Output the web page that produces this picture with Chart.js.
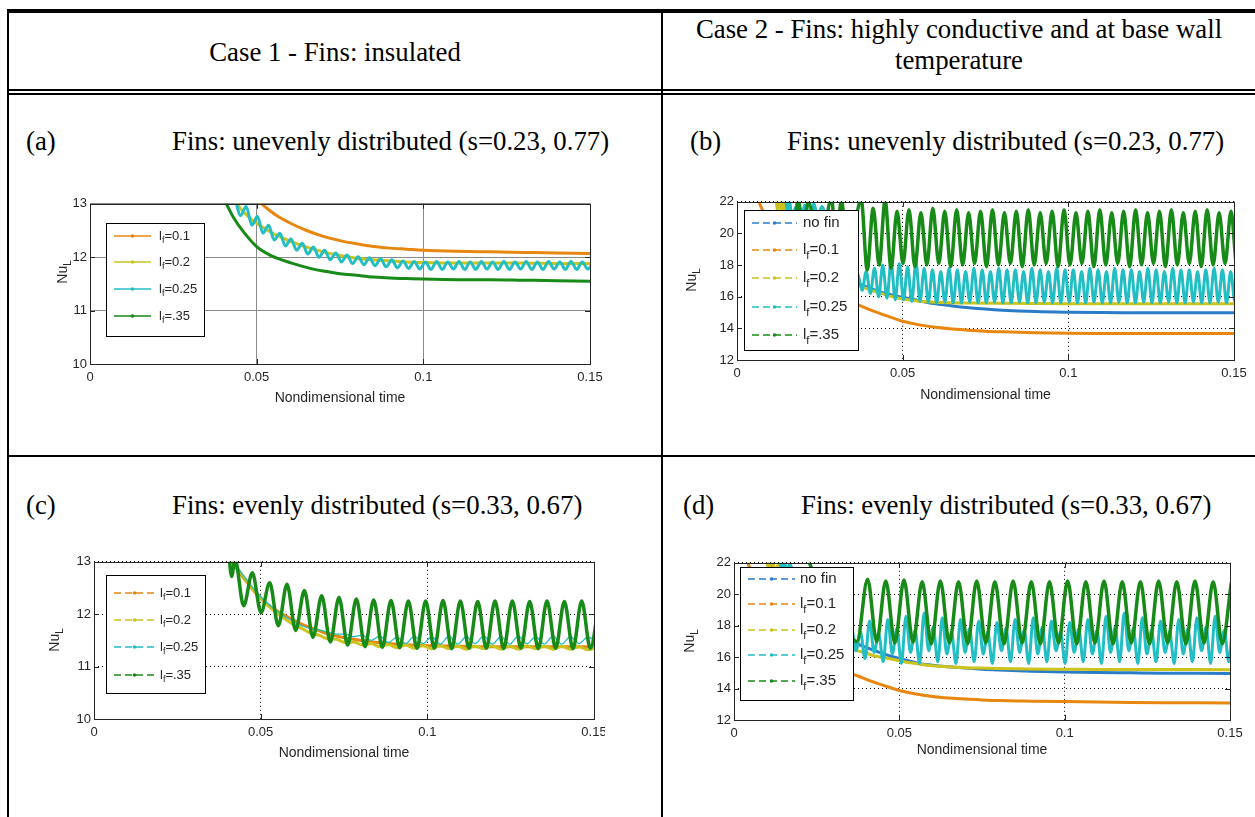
<!DOCTYPE html>
<html>
<head>
<meta charset="utf-8">
<title>Nu_L against nondimensional time</title>
<script src="https://cdn.jsdelivr.net/npm/chart.js@4.4.1/dist/chart.umd.min.js"></script>
<style>
  html, body { margin: 0; padding: 0; background: #fff; }
  #page { position: relative; width: 1255px; height: 817px; overflow: hidden;
          font-family: "Liberation Serif", "Times New Roman", serif; color: #000; }
  .rule { position: absolute; background: #000; }
  .txt { position: absolute; white-space: nowrap; font-size: 26.8px; line-height: 30px; }
  .panel { position: absolute; overflow: hidden; }
  .panel canvas { display: block; }
</style>
</head>
<body>
<div id="page">
  <!-- table rules -->
  <div class="rule" style="left:7px; top:9px; width:1248px; height:4px"></div>
  <div class="rule" style="left:7px; top:9px; width:2px; height:808px"></div>
  <div class="rule" style="left:661px; top:9px; width:2px; height:808px"></div>
  <div class="rule" style="left:7px; top:89px; width:1248px; height:2px"></div>
  <div class="rule" style="left:7px; top:93px; width:1248px; height:2px"></div>
  <div class="rule" style="left:7px; top:455px; width:1248px; height:2px"></div>

  <div class="txt" style="left:9px; width:652px; top:37px; text-align:center">Case 1 - Fins: insulated</div>
  <div class="txt" style="left:663px; width:592px; top:14px; line-height:31px; text-align:center">Case 2 - Fins: highly conductive and at base wall<br>temperature</div>

  <div class="txt" style="left:26px; top:126px">(a)</div>
  <div class="txt" style="left:172px; top:126px">Fins: unevenly distributed (s=0.23, 0.77)</div>
  <div class="txt" style="left:690px; top:126px">(b)</div>
  <div class="txt" style="left:787px; top:126px">Fins: unevenly distributed (s=0.23, 0.77)</div>
  <div class="txt" style="left:26px; top:490px">(c)</div>
  <div class="txt" style="left:172px; top:490px">Fins: evenly distributed (s=0.33, 0.67)</div>
  <div class="txt" style="left:683px; top:490px">(d)</div>
  <div class="txt" style="left:801px; top:490px">Fins: evenly distributed (s=0.33, 0.67)</div>

  <div class="panel" id="wrapA"><canvas id="chartA"></canvas></div>
  <div class="panel" id="wrapB"><canvas id="chartB"></canvas></div>
  <div class="panel" id="wrapC"><canvas id="chartC"></canvas></div>
  <div class="panel" id="wrapD"><canvas id="chartD"></canvas></div>
</div>

<script>
// ---- axes ----
const xTicks = [0, 0.05, 0.1, 0.15];
const xTickLabels = ['0', '0.05', '0.1', '0.15'];
const yTicksCase1 = [10, 11, 12, 13];
const yTickLabelsCase1 = ['10', '11', '12', '13'];
const yTicksCase2 = [12, 14, 16, 18, 20, 22];
const yTickLabelsCase2 = ['12', '14', '16', '18', '20', '22'];
const namesCase1 = ['l_f=0.1', 'l_f=0.2', 'l_f=0.25', 'l_f=.35'];
const namesCase2 = ['no fin', 'l_f=0.1', 'l_f=0.2', 'l_f=0.25', 'l_f=.35'];

// ---- (a) case 1, uneven fins ----
const aOrangeT = [0.0505, 0.053, 0.056, 0.06, 0.065, 0.07, 0.075, 0.08, 0.085, 0.09, 0.095, 0.1, 0.11, 0.12, 0.13, 0.14, 0.15];
const aOrangeY = [13.05, 12.92, 12.78, 12.64, 12.5, 12.39, 12.31, 12.25, 12.2, 12.17, 12.15, 12.13, 12.11, 12.1, 12.09, 12.08, 12.07];
const aYellowT = [0.0435, 0.046, 0.049, 0.052, 0.055, 0.06, 0.065, 0.07, 0.075, 0.08, 0.085, 0.09, 0.095, 0.1, 0.11, 0.12, 0.13, 0.14, 0.15];
const aYellowY = [13.05, 12.85, 12.68, 12.55, 12.44, 12.3, 12.19, 12.1, 12.03, 11.98, 11.95, 11.93, 11.91, 11.9, 11.89, 11.89, 11.89, 11.88, 11.88];
// cyan ripples: one value per half period
const aCyanStart = 0.0435, aCyanHalf = 0.00168;
const aCyanPeaks = [13.1, 12.95, 12.76, 12.6, 12.45, 12.34, 12.26, 12.19, 12.13, 12.08, 12.04, 12.01, 11.99, 11.97, 11.95, 11.93, 11.92, 11.91, 11.92, 11.91, 11.92, 11.91, 11.92, 11.91, 11.92, 11.91, 11.92, 11.91, 11.92, 11.91, 11.92, 11.91, 11.9];
const aCyanTroughs = [12.78, 12.6, 12.45, 12.32, 12.21, 12.13, 12.06, 12.0, 11.95, 11.91, 11.88, 11.86, 11.84, 11.82, 11.8, 11.79, 11.78, 11.77, 11.77, 11.78, 11.77, 11.77, 11.78, 11.77, 11.77, 11.78, 11.77, 11.77, 11.78, 11.77, 11.77, 11.78];
const aGreenT = [0.0405, 0.043, 0.046, 0.05, 0.054, 0.058, 0.062, 0.066, 0.07, 0.075, 0.08, 0.085, 0.09, 0.095, 0.1, 0.11, 0.12, 0.13, 0.14, 0.15];
const aGreenY = [13.05, 12.75, 12.48, 12.2, 12.04, 11.94, 11.86, 11.79, 11.74, 11.69, 11.66, 11.63, 11.61, 11.6, 11.59, 11.58, 11.58, 11.57, 11.56, 11.55];

// ---- (b) case 2, uneven fins ----
const bBlueT = [0.0125, 0.0145, 0.017, 0.02, 0.025, 0.03, 0.034, 0.037, 0.04, 0.044, 0.048, 0.052, 0.056, 0.06, 0.065, 0.07, 0.075, 0.08, 0.09, 0.1, 0.11, 0.12, 0.13, 0.14, 0.15];
const bBlueY = [23, 21.6, 20.2, 19.0, 17.9, 17.2, 16.95, 16.8, 16.55, 16.25, 16.05, 15.88, 15.7, 15.55, 15.42, 15.31, 15.22, 15.15, 15.06, 15.02, 15.0, 14.99, 14.98, 14.98, 14.98];
const bOrangeT = [0.0055, 0.0068, 0.0083, 0.012, 0.018, 0.025, 0.032, 0.037, 0.041, 0.045, 0.05, 0.055, 0.06, 0.065, 0.07, 0.075, 0.08, 0.09, 0.1, 0.11, 0.12, 0.13, 0.14, 0.15];
const bOrangeY = [22.6, 21.9, 21.2, 19.5, 17.6, 16.4, 15.8, 15.45, 15.1, 14.8, 14.45, 14.22, 14.07, 13.96, 13.88, 13.82, 13.78, 13.72, 13.69, 13.68, 13.68, 13.67, 13.67, 13.67];
const bYellowT = [0.0115, 0.0122, 0.0128, 0.0134, 0.014, 0.016, 0.0185, 0.0195, 0.0215, 0.026, 0.032, 0.037, 0.04, 0.043, 0.046, 0.05, 0.055, 0.06, 0.07, 0.08, 0.1, 0.12, 0.15];
const bYellowY = [23, 21.5, 22.2, 21.3, 21.9, 19.5, 21.8, 21.0, 19.0, 18.0, 17.2, 16.7, 16.45, 16.25, 16.05, 15.85, 15.72, 15.65, 15.6, 15.58, 15.56, 15.55, 15.55];
const bCyanEarlyT = [0.0145, 0.0152, 0.0158, 0.0165, 0.0185, 0.0195, 0.0205, 0.022, 0.0232, 0.0244, 0.0256, 0.029, 0.033];
const bCyanEarlyY = [23, 21.4, 22.1, 21.2, 21.9, 21.2, 21.8, 20.5, 21.9, 21.0, 21.7, 18.5, 17.6];
const bCyanStart = 0.0365, bCyanHalf = 0.00125;
const bCyanPeaks = [17.4, 17.6, 17.8, 18.0, 18.2, 18.1, 17.9, 18.2, 17.8, 17.7,
  17.6, 17.8, 17.7, 17.6, 17.8, 17.7, 17.6, 17.8, 17.7, 17.7,
  17.6, 17.8, 17.7, 17.6, 17.8, 17.7, 17.7, 17.6, 17.8, 17.7,
  17.6, 17.8, 17.7, 17.7, 17.6, 17.8, 17.7, 17.6, 17.8, 17.7,
  17.7, 17.6, 17.7, 17.8, 17.7, 17.6, 17.5];
const bCyanTroughs = [16.4, 16.2, 16.0, 15.9, 15.8, 15.8, 15.7, 15.7, 15.65, 15.6,
  15.65, 15.6, 15.6, 15.65, 15.6, 15.6, 15.65, 15.6, 15.6, 15.65,
  15.6, 15.6, 15.65, 15.6, 15.6, 15.65, 15.6, 15.6, 15.65, 15.6,
  15.6, 15.65, 15.6, 15.6, 15.65, 15.6, 15.6, 15.65, 15.6, 15.6,
  15.65, 15.6, 15.6, 15.65, 15.6, 15.7];
const bGreenEarlyT = [0.017, 0.0185, 0.02, 0.0215, 0.025, 0.0285, 0.03, 0.0315, 0.0335];
const bGreenEarlyY = [19.5, 22.1, 19.8, 22.0, 18.6, 22.2, 19.2, 22.1, 18.5];
const bGreenStart = 0.0375, bGreenHalf = 0.0018;
const bGreenPeaks = [22.1, 21.6, 22.1, 21.4, 21.5, 21.3, 21.6, 21.4, 21.5, 21.3, 21.4,
  21.5, 21.3, 21.4, 21.5, 21.3, 21.4, 21.5, 21.3, 21.4, 21.5, 21.3,
  21.4, 21.5, 21.3, 21.4, 21.5, 21.3, 21.4, 21.5, 21.3, 21.4, 21.4];
const bGreenTroughs = [17.7, 18.0, 17.8, 18.1, 17.9, 18.0, 18.1, 17.9, 18.0, 18.1, 17.9,
  18.0, 18.1, 17.9, 18.0, 18.1, 17.9, 18.0, 18.1, 17.9, 18.0, 18.1,
  17.9, 18.0, 18.1, 17.9, 18.0, 18.1, 17.9, 18.0, 18.1, 17.9];

// ---- (c) case 1, even fins ----
const cOrangeT = [0.0405, 0.043, 0.046, 0.05, 0.054, 0.058, 0.062, 0.066, 0.07, 0.075, 0.08, 0.085, 0.09, 0.095, 0.1, 0.11, 0.12, 0.13, 0.14, 0.15];
const cOrangeY = [13.05, 12.85, 12.6, 12.3, 12.1, 11.95, 11.82, 11.72, 11.63, 11.55, 11.5, 11.46, 11.43, 11.41, 11.4, 11.39, 11.38, 11.38, 11.38, 11.38];
const cGridStart = 0.0415, cGridStep = 0.0026;
const cYellowY = [13.0, 12.78, 12.56, 12.36, 12.18, 12.04, 11.92, 11.81, 11.73, 11.64,
  11.6, 11.53, 11.52, 11.46, 11.47, 11.41, 11.44, 11.38, 11.42, 11.36,
  11.41, 11.35, 11.4, 11.34, 11.4, 11.34, 11.39, 11.33, 11.39, 11.34,
  11.4, 11.33, 11.39, 11.33, 11.4, 11.34, 11.39, 11.33, 11.39, 11.33,
  11.38, 11.32, 11.36];
const cCyanY = [13.05, 12.8, 12.58, 12.38, 12.22, 12.08, 11.96, 11.87, 11.78, 11.73,
  11.7, 11.66, 11.62, 11.62, 11.57, 11.6, 11.5, 11.58, 11.46, 11.56,
  11.44, 11.58, 11.44, 11.57, 11.43, 11.58, 11.43, 11.57, 11.44, 11.58,
  11.43, 11.57, 11.43, 11.58, 11.44, 11.57, 11.43, 11.58, 11.43, 11.57,
  11.44, 11.56, 11.5];
const cGreenEarlyT = [0.0403, 0.0413];
const cGreenEarlyY = [13.25, 12.72];
const cGreenStart = 0.0423, cGreenHalf = 0.0026;
const cGreenPeaks = [13.05, 12.79, 12.6, 12.57, 12.45, 12.35, 12.32, 12.29, 12.27, 12.26, 12.25,
  12.25, 12.26, 12.25, 12.24, 12.25, 12.25, 12.24, 12.25, 12.24, 12.25, 12.22];
const cGreenTroughs = [12.16, 12.03, 11.78, 11.69, 11.56, 11.47, 11.41, 11.38, 11.37, 11.36, 11.35,
  11.35, 11.34, 11.35, 11.35, 11.34, 11.35, 11.34, 11.35, 11.34, 11.35];

// ---- (d) case 2, even fins ----
const dBlueT = [0.009, 0.011, 0.014, 0.018, 0.024, 0.03, 0.035, 0.0375, 0.04, 0.044, 0.048, 0.052, 0.056, 0.06, 0.065, 0.07, 0.075, 0.08, 0.09, 0.1, 0.11, 0.12, 0.13, 0.14, 0.15];
const dBlueY = [23, 21.9, 20.5, 19.2, 18.0, 17.3, 16.95, 16.82, 16.62, 16.3, 16.02, 15.8, 15.6, 15.48, 15.38, 15.3, 15.23, 15.18, 15.1, 15.05, 15.02, 15.0, 14.98, 14.97, 14.96];
const dOrangeT = [0.003, 0.0045, 0.006, 0.009, 0.014, 0.02, 0.027, 0.033, 0.0375, 0.041, 0.045, 0.05, 0.055, 0.06, 0.065, 0.07, 0.075, 0.08, 0.09, 0.1, 0.11, 0.12, 0.13, 0.14, 0.15];
const dOrangeY = [23, 21.8, 21.5, 19.8, 18.0, 16.6, 15.7, 15.1, 14.8, 14.5, 14.22, 13.88, 13.65, 13.5, 13.4, 13.33, 13.28, 13.24, 13.2, 13.17, 13.15, 13.12, 13.1, 13.09, 13.08];
const dYellowT = [0.0095, 0.0105, 0.0115, 0.0125, 0.0135, 0.016, 0.022, 0.03, 0.0375, 0.04, 0.043, 0.046, 0.05, 0.054, 0.058, 0.062, 0.066, 0.07, 0.075, 0.08, 0.09, 0.1, 0.11, 0.12, 0.13, 0.14, 0.15];
const dYellowY = [23, 21.6, 22.1, 21.5, 21.9, 19.5, 17.8, 17.0, 16.4, 16.25, 16.05, 15.95, 15.78, 15.62, 15.5, 15.42, 15.37, 15.33, 15.3, 15.27, 15.24, 15.23, 15.22, 15.22, 15.22, 15.21, 15.2];
const dCyanEarlyT = [0.0135, 0.0145, 0.0152, 0.016, 0.0168, 0.02, 0.027, 0.032];
const dCyanEarlyY = [23, 21.5, 22.1, 21.4, 21.9, 19.5, 18.2, 17.4];
const dCyanStart = 0.0355, dCyanHalf = 0.001375;
const dCyanPeaks = [17.9, 17.6, 18.3, 17.5, 18.4, 17.8, 18.6, 17.7, 18.8, 17.9,
  18.5, 17.6, 18.4, 17.8, 18.3, 17.6, 18.2, 17.8, 18.4, 17.7,
  18.5, 17.9, 18.3, 17.6, 18.2, 17.8, 18.4, 17.7, 18.6, 17.9,
  18.8, 17.8, 18.5, 17.7, 18.3, 17.6, 18.4, 17.8, 18.5, 17.9,
  18.6, 17.7, 18.2];
const dCyanTroughs = [16.4, 15.9, 16.3, 15.7, 16.2, 15.6, 16.3, 15.6, 16.4, 15.7,
  16.2, 15.6, 16.3, 15.7, 16.2, 15.6, 16.4, 15.7, 16.3, 15.6,
  16.2, 15.7, 16.4, 15.6, 16.3, 15.7, 16.2, 15.6, 16.3, 15.7,
  16.4, 15.6, 16.2, 15.7, 16.3, 15.6, 16.2, 15.7, 16.4, 15.6,
  16.3, 15.7, 16.0];
const dGreenEarlyT = [0.0215, 0.023, 0.026, 0.03, 0.034, 0.0372];
const dGreenEarlyY = [23, 21.9, 20.5, 18.8, 17.6, 17.0];
const dGreenStart = 0.0404, dGreenHalf = 0.00275;
const dGreenPeaks = [20.95, 20.85, 20.9, 20.8, 20.85, 20.8, 20.85, 20.8, 20.85, 20.8, 20.8,
  20.85, 20.8, 20.85, 20.8, 20.8, 20.85, 20.8, 20.85, 20.8, 20.75];
const dGreenTroughs = [17.0, 16.9, 16.95, 16.85, 16.9, 16.85, 16.9, 16.85, 16.9, 16.85,
  16.9, 16.85, 16.9, 16.85, 16.9, 16.85, 16.9, 16.85, 16.9, 16.85];

// ---- helpers that turn the arrays into {x, y} points ----
function pairs(ts, ys) {
    return ts.map((t, i) => ({ x: t, y: ys[i] }));
}
function grid(start, step, ys) {
    return ys.map((y, i) => ({ x: start + i * step, y: y }));
}
function wave(start, half, peaks, troughs) {
    const out = [];
    const n = peaks.length + troughs.length;
    for (let i = 0; i < n; i++) {
        const y = i % 2 === 0 ? peaks[i / 2] : troughs[(i - 1) / 2];
        out.push({ x: start + i * half, y: y });
    }
    return out;
}

const FONT = '"Liberation Sans", Arial, Helvetica, sans-serif';
const INK = '#262626';
const ORANGE = '#E8870F';
const YELLOW = '#CCC31C';
const CYAN = '#22BEC4';
const GREEN = '#178A17';
const BLUE = '#2B7CC8';

function drawName(ctx, name, x, y, size) {
    ctx.textBaseline = 'middle';
    ctx.textAlign = 'left';
    ctx.fillStyle = INK;
    ctx.font = size + 'px ' + FONT;
    if (name.indexOf('_') < 0) {
        ctx.fillText(name, x, y);
        return;
    }
    const base = name.slice(0, name.indexOf('_'));
    const sub = name.charAt(name.indexOf('_') + 1);
    const rest = name.slice(name.indexOf('_') + 2);
    ctx.fillText(base, x, y);
    x += ctx.measureText(base).width;
    ctx.font = Math.round(size * 0.7) + 'px ' + FONT;
    ctx.fillText(sub, x, y + size * 0.38);
    x += ctx.measureText(sub).width;
    ctx.font = size + 'px ' + FONT;
    ctx.fillText(rest, x, y);
}

function makePanel(cfg) {
    const P = cfg.plot;
    const padL = 55, padT = 10, padR = 25, axisH = cfg.axisH;
    const ox = P.l - padL, oy = P.t - padT;
    const W = P.r - P.l + padL + padR;
    const H = P.b - P.t + padT + axisH;
    const wrap = document.getElementById(cfg.wrap);
    wrap.style.left = ox + 'px';
    wrap.style.top = oy + 'px';
    wrap.style.width = (cfg.clipRight ? cfg.clipRight - ox : W) + 'px';
    wrap.style.height = H + 'px';
    const canvas = document.getElementById(cfg.canvas);
    canvas.width = W;
    canvas.height = H;
    canvas.style.width = W + 'px';
    canvas.style.height = H + 'px';

    const panelPlugin = {
        id: 'panel',
        afterDatasetsDraw(chart) {
            const ctx = chart.ctx;
            const a = chart.chartArea;
            const xs = chart.scales.x, ys = chart.scales.y;
            ctx.save();
            // box and inward tick marks, MATLAB style
            ctx.strokeStyle = INK;
            ctx.lineWidth = 1;
            ctx.setLineDash([]);
            ctx.beginPath();
            xTicks.forEach(v => {
                const px = Math.round(xs.getPixelForValue(v)) + 0.5;
                ctx.moveTo(px, a.bottom); ctx.lineTo(px, a.bottom - 5);
                ctx.moveTo(px, a.top); ctx.lineTo(px, a.top + 5);
            });
            cfg.yTicks.forEach(v => {
                const py = Math.round(ys.getPixelForValue(v)) + 0.5;
                ctx.moveTo(a.left, py); ctx.lineTo(a.left + 5, py);
                ctx.moveTo(a.right, py); ctx.lineTo(a.right - 5, py);
            });
            ctx.stroke();
            ctx.strokeRect(Math.round(a.left) + 0.5, Math.round(a.top) + 0.5,
                Math.round(a.right - a.left), Math.round(a.bottom - a.top));

            // legend box
            const L = cfg.legend;
            const lx = L.x - ox, ly = L.y - oy;
            ctx.fillStyle = '#fff';
            ctx.fillRect(lx, ly, L.w, L.h);
            ctx.strokeStyle = '#000';
            ctx.strokeRect(lx + 0.5, ly + 0.5, L.w, L.h);
            cfg.series.forEach((s, i) => {
                const ry = L.rows[i] - oy;
                ctx.strokeStyle = s.color;
                ctx.lineWidth = 1.6;
                ctx.setLineDash(L.dashed ? [7, 4] : []);
                ctx.beginPath();
                ctx.moveTo(L.line[0] - ox, ry);
                ctx.lineTo(L.line[1] - ox, ry);
                ctx.stroke();
                ctx.setLineDash([]);
                const mx = (L.line[0] + L.line[1]) / 2 - ox;
                ctx.fillStyle = s.color;
                ctx.beginPath();
                ctx.arc(mx, ry, 1.8, 0, Math.PI * 2);
                ctx.fill();
                drawName(ctx, s.name, L.textX - ox, ry, L.size);
            });

            // y axis label Nu_L, rotated
            ctx.translate(cfg.nuX - ox, cfg.nuY - oy);
            ctx.rotate(-Math.PI / 2);
            ctx.font = '14px ' + FONT;
            const w1 = ctx.measureText('Nu').width;
            ctx.font = '10px ' + FONT;
            const w2 = ctx.measureText('L').width;
            drawName(ctx, 'Nu_L', -(w1 + w2) / 2, 0, 14);
            ctx.restore();
        }
    };

    const tickFont = { family: FONT, size: 13 };
    return new Chart(canvas, {
        type: 'line',
        data: {
            datasets: cfg.series.map((s, i) => ({
                label: s.name,
                data: s.points,
                borderColor: s.color,
                borderWidth: s.width,
                pointRadius: 0,
                fill: false,
                cubicInterpolationMode: 'monotone',
                order: -i
            }))
        },
        options: {
            responsive: false,
            animation: false,
            devicePixelRatio: 1,
            events: [],
            layout: { padding: { left: 0, top: padT, right: padR, bottom: 0 } },
            plugins: {
                legend: { display: false },
                tooltip: { enabled: false }
            },
            scales: {
                x: {
                    type: 'linear',
                    min: 0,
                    max: 0.15,
                    afterFit: s => { s.height = axisH; },
                    afterBuildTicks: s => { s.ticks = xTicks.map(v => ({ value: v })); },
                    ticks: {
                        callback: (v, i) => xTickLabels[i],
                        font: tickFont,
                        color: INK,
                        padding: 6,
                        maxRotation: 0,
                        autoSkip: false
                    },
                    grid: { color: cfg.gridColor, lineWidth: 1, drawTicks: false },
                    border: { display: false, dash: cfg.gridDash },
                    title: {
                        display: true,
                        text: 'Nondimensional time',
                        font: { family: FONT, size: 14 },
                        color: INK,
                        padding: { top: 0, bottom: 3 }
                    }
                },
                y: {
                    type: 'linear',
                    min: cfg.yTicks[0],
                    max: cfg.yTicks[cfg.yTicks.length - 1],
                    afterFit: s => { s.width = padL; },
                    afterBuildTicks: s => { s.ticks = cfg.yTicks.map(v => ({ value: v })); },
                    ticks: {
                        callback: (v, i) => cfg.yTickLabels[i],
                        font: tickFont,
                        color: INK,
                        padding: 3,
                        autoSkip: false
                    },
                    grid: { color: cfg.gridColor, lineWidth: 1, drawTicks: false },
                    border: { display: false, dash: cfg.gridDash }
                }
            }
        },
        plugins: [panelPlugin]
    });
}

makePanel({
    wrap: 'wrapA', canvas: 'chartA',
    plot: { l: 90, r: 590, t: 203, b: 364 }, axisH: 46,
    yTicks: yTicksCase1, yTickLabels: yTickLabelsCase1,
    gridColor: '#8a8a8a', gridDash: [],
    nuX: 63, nuY: 272,
    legend: { x: 106, y: 223, w: 98, h: 113, rows: [236, 262, 289, 316], line: [114, 151], textX: 159, size: 13, dashed: false },
    series: [
        { name: namesCase1[0], color: ORANGE, width: 3, points: pairs(aOrangeT, aOrangeY) },
        { name: namesCase1[1], color: YELLOW, width: 3, points: pairs(aYellowT, aYellowY) },
        { name: namesCase1[2], color: CYAN, width: 3, points: wave(aCyanStart, aCyanHalf, aCyanPeaks, aCyanTroughs) },
        { name: namesCase1[3], color: GREEN, width: 3, points: pairs(aGreenT, aGreenY) }
    ]
});

makePanel({
    wrap: 'wrapB', canvas: 'chartB',
    plot: { l: 737, r: 1234, t: 201, b: 360 }, axisH: 47,
    yTicks: yTicksCase2, yTickLabels: yTickLabelsCase2,
    gridColor: '#000', gridDash: [1, 3],
    nuX: 692, nuY: 280,
    legend: { x: 744, y: 210, w: 114, h: 140, rows: [223, 250, 278, 307, 335], line: [752, 797], textX: 803, size: 15, dashed: true },
    series: [
        { name: namesCase2[0], color: BLUE, width: 3, points: pairs(bBlueT, bBlueY) },
        { name: namesCase2[1], color: ORANGE, width: 3, points: pairs(bOrangeT, bOrangeY) },
        { name: namesCase2[2], color: YELLOW, width: 3, points: pairs(bYellowT, bYellowY) },
        { name: namesCase2[3], color: CYAN, width: 3,
          points: pairs(bCyanEarlyT, bCyanEarlyY).concat(wave(bCyanStart, bCyanHalf, bCyanPeaks, bCyanTroughs)) },
        { name: namesCase2[4], color: GREEN, width: 3.5,
          points: pairs(bGreenEarlyT, bGreenEarlyY).concat(wave(bGreenStart, bGreenHalf, bGreenPeaks, bGreenTroughs)) }
    ]
});

makePanel({
    wrap: 'wrapC', canvas: 'chartC',
    plot: { l: 94, r: 594, t: 561, b: 719 }, axisH: 46,
    clipRight: 605,
    yTicks: yTicksCase1, yTickLabels: yTickLabelsCase1,
    gridColor: '#000', gridDash: [1, 3],
    nuX: 55, nuY: 640,
    legend: { x: 106, y: 575, w: 99, h: 118, rows: [593, 620, 647, 675], line: [114, 155], textX: 160, size: 13, dashed: true },
    series: [
        { name: namesCase1[0], color: ORANGE, width: 3, points: pairs(cOrangeT, cOrangeY) },
        { name: namesCase1[1], color: YELLOW, width: 3, points: grid(cGridStart, cGridStep, cYellowY) },
        { name: namesCase1[2], color: CYAN, width: 1.3, points: grid(cGridStart, cGridStep, cCyanY) },
        { name: namesCase1[3], color: GREEN, width: 3.5,
          points: pairs(cGreenEarlyT, cGreenEarlyY).concat(wave(cGreenStart, cGreenHalf, cGreenPeaks, cGreenTroughs)) }
    ]
});

makePanel({
    wrap: 'wrapD', canvas: 'chartD',
    plot: { l: 734, r: 1230, t: 562, b: 720 }, axisH: 42,
    yTicks: yTicksCase2, yTickLabels: yTickLabelsCase2,
    gridColor: '#000', gridDash: [1, 3],
    nuX: 690, nuY: 641,
    legend: { x: 740, y: 567, w: 113, h: 133, rows: [579, 604, 630, 655, 681], line: [748, 795], textX: 800, size: 15, dashed: true },
    series: [
        { name: namesCase2[0], color: BLUE, width: 3, points: pairs(dBlueT, dBlueY) },
        { name: namesCase2[1], color: ORANGE, width: 3, points: pairs(dOrangeT, dOrangeY) },
        { name: namesCase2[2], color: YELLOW, width: 3, points: pairs(dYellowT, dYellowY) },
        { name: namesCase2[3], color: CYAN, width: 3,
          points: pairs(dCyanEarlyT, dCyanEarlyY).concat(wave(dCyanStart, dCyanHalf, dCyanPeaks, dCyanTroughs)) },
        { name: namesCase2[4], color: GREEN, width: 3.5,
          points: pairs(dGreenEarlyT, dGreenEarlyY).concat(wave(dGreenStart, dGreenHalf, dGreenPeaks, dGreenTroughs)) }
    ]
});
</script>
</body>
</html>
